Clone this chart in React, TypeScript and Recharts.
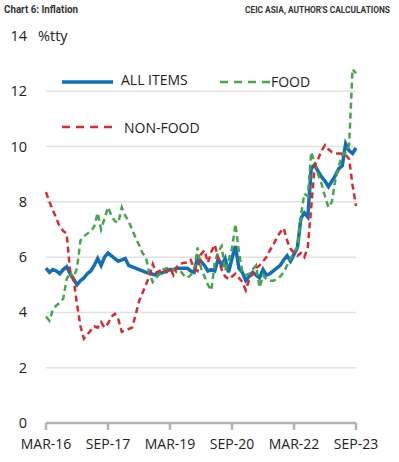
import React from "react";
import { LineChart, Line, XAxis, YAxis, ReferenceLine } from "recharts";

// monthly, Mar-16 .. Sep-23 (index 0..90)
const allItems = [
  5.6, 5.45, 5.55, 5.5, 5.4, 5.55, 5.65, 5.4, 5.2, 5.0,
  5.15, 5.25, 5.4, 5.5, 5.7, 5.95, 5.7, 6.0, 6.15, 6.05,
  5.95, 5.85, 5.9, 5.95, 5.7, 5.65, 5.6, 5.55, 5.5, 5.45,
  5.42, 5.38, 5.35, 5.4, 5.45, 5.5, 5.55, 5.55, 5.6, 5.6,
  5.6, 5.6, 5.5, 5.45, 6.0, 5.85, 5.7, 5.5, 5.55, 5.5,
  5.95, 5.7, 5.95, 5.45, 5.95, 6.4, 5.6, 5.45, 5.15, 5.3,
  5.45, 5.35, 5.25, 5.55, 5.35, 5.4, 5.5, 5.6, 5.7, 5.9,
  6.05, 5.85, 6.1, 6.35, 7.4, 7.6, 7.45, 9.2, 9.35, 9.1,
  8.9, 8.75, 8.55, 8.75, 8.95, 9.2, 9.3, 10.1, 9.85, 9.75,
  9.95,
];

const food = [
  3.85, 3.7, 4.1, 4.25, 4.35, 4.5, 5.2, 5.45, 5.25, 5.6,
  6.6, 6.75, 6.85, 6.95, 7.1, 7.6, 7.0, 7.4, 7.8, 7.5,
  7.3, 7.25, 7.8, 7.5, 7.3, 7.0, 6.7, 6.45, 6.15, 6.0,
  5.4, 5.1, 5.25, 5.4, 5.55, 5.6, 5.6, 5.55, 5.45, 5.5,
  5.35, 5.25, 5.35, 5.5, 6.35, 5.6, 5.3, 5.0, 4.8, 5.8,
  6.2, 6.4, 5.5, 5.9, 6.3, 7.2, 6.2, 5.45, 5.35, 5.4,
  5.55, 5.7, 4.9, 5.35, 5.2, 5.15, 5.15, 5.2, 5.3, 5.45,
  5.7, 5.95, 6.2, 6.35, 7.5, 8.3, 8.2, 9.8, 9.4, 9.0,
  8.65, 8.2, 7.8, 8.0, 8.8, 9.3, 9.7, 9.8, 10.05, 12.8,
  12.65,
];

const nonFood = [
  8.35, 8.0, 7.7, 7.4, 7.1, 6.95, 6.85, 5.5, 5.2, 4.3,
  3.5, 3.05, 3.2, 3.35, 3.5, 3.45, 3.65, 3.45, 3.6, 3.85,
  3.95, 3.75, 3.3, 3.35, 3.4, 3.45, 3.9, 4.4, 4.7, 5.0,
  5.3, 5.75, 5.45, 5.5, 5.55, 5.45, 5.6, 5.35, 5.65, 5.75,
  5.8, 5.8, 5.9, 5.6, 5.5, 6.1, 6.25, 5.8, 6.2, 6.45,
  5.95, 5.55, 5.3, 5.2, 5.3, 5.4, 5.25, 5.1, 4.8, 5.2,
  5.4, 5.6, 5.7, 5.85, 6.0, 6.25, 6.45, 6.7, 6.9, 7.05,
  6.6, 6.3, 6.15, 6.05, 6.15, 6.0, 6.35, 7.8, 9.3, 9.55,
  9.85, 10.05, 9.9, 9.8, 9.75, 9.75, 9.75, 9.7, 9.55, 8.6,
  7.85,
];

const xTicks = [0, 18, 36, 54, 72, 90];
const xLabels = ["MAR-16", "SEP-17", "MAR-19", "SEP-20", "MAR-22", "SEP-23"];
const yTicks = [0, 2, 4, 6, 8, 10, 12, 14];
const gridValues = [2, 4, 6, 8, 10, 12];

const BLUE = "#116fb6";
const GREEN = "#44a849";
const RED = "#e2262e";
const FONT = "'Open Sans', sans-serif";

const data = allItems.map((v, i) => ({ i, all: v, food: food[i], nonFood: nonFood[i] }));

const YTick = (props: any) => {
  const { x, y, payload } = props;
  return (
    <g>
      <text x={x} y={y} dy={5} textAnchor="end" fontSize={14.5} fill="#222" fontFamily={FONT}>
        {payload.value}
      </text>
      {payload.value === 14 && (
        <text x={38} y={y} dy={5} fontSize={14.5} fill="#222" fontFamily={FONT}>
          %tty
        </text>
      )}
    </g>
  );
};

const XTick = (props: any) => {
  const { x, y, payload } = props;
  return (
    <text x={x} y={y} dy={11} textAnchor="middle" fontSize={14} fill="#222" fontFamily={FONT}>
      {xLabels[xTicks.indexOf(payload.value)]}
    </text>
  );
};

const App = () => {
  return (
    <div style={{ position: "absolute", left: 0, top: 0, width: 399, height: 462, background: "#fff" }}>
      <LineChart width={399} height={462} data={data} margin={{ top: 36, right: 43, bottom: 9, left: 0 }}>
        {gridValues.map((g) => (
          <ReferenceLine key={g} y={g} stroke="#e2e2e2" strokeWidth={1.5} />
        ))}
        <XAxis
          dataKey="i"
          type="number"
          domain={[0, 90]}
          ticks={xTicks}
          tick={<XTick />}
          height={30}
          stroke="#b3b3b3"
          strokeWidth={2.5}
          tickSize={7}
          tickMargin={8}
          interval={0}
        />
        <YAxis
          domain={[0, 14]}
          ticks={yTicks}
          width={46}
          axisLine={false}
          tickLine={false}
          tickSize={0}
          tickMargin={19}
          tick={<YTick />}
          interval={0}
        />
        <Line dataKey="all" stroke={BLUE} strokeWidth={3.5} dot={false} isAnimationActive={false} />
        <Line dataKey="food" stroke={GREEN} strokeWidth={2.5} strokeDasharray="6 4" dot={false} isAnimationActive={false} />
        <Line dataKey="nonFood" stroke={RED} strokeWidth={2.5} strokeDasharray="6 4" dot={false} isAnimationActive={false} />
      </LineChart>
      <svg width={399} height={462} style={{ position: "absolute", left: 0, top: 0, pointerEvents: "none" }}>
        <text x={4} y={13} fontSize={11} fontWeight="bold" fill="#333" fontFamily="Roboto, sans-serif" textLength={74} lengthAdjust="spacingAndGlyphs">
          Chart 6: Inflation
        </text>
        <text x={390} y={13} fontSize={8.5} fontWeight="bold" fill="#333" fontFamily="Roboto, sans-serif" textAnchor="end" textLength={145} lengthAdjust="spacingAndGlyphs">
          CEIC ASIA, AUTHOR'S CALCULATIONS
        </text>
        <line x1={62} x2={113} y1={82} y2={82} stroke={BLUE} strokeWidth={3.5} />
        <text x={121} y={85} fontSize={14} fill="#222" fontFamily={FONT}>ALL ITEMS</text>
        <line x1={220} x2={270} y1={82} y2={82} stroke={GREEN} strokeWidth={2.5} strokeDasharray="8 6" />
        <text x={271} y={87} fontSize={14} fill="#222" fontFamily={FONT}>FOOD</text>
        <line x1={62} x2={113} y1={127} y2={127} stroke={RED} strokeWidth={2.5} strokeDasharray="8 6" />
        <text x={124} y={133} fontSize={14} fill="#222" fontFamily={FONT}>NON-FOOD</text>
      </svg>
    </div>
  );
};

export default App;
